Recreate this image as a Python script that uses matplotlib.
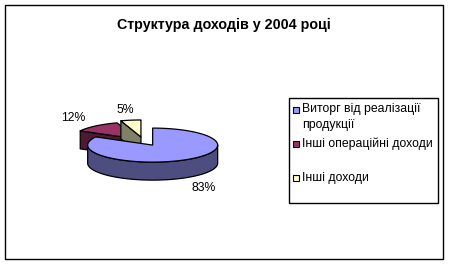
import numpy as np
import matplotlib.pyplot as plt
from matplotlib.patches import Polygon, Rectangle

# data
title = "Структура доходів у 2004 році"
labels = ["Виторг від реалізації\nпродукції", "Інші операційні доходи", "Інші доходи"]
values = [83, 12, 5]

# style
top_colors = ["#9999FF", "#993366", "#FFFFCC"]
side_colors = ["#4D4D80", "#4D1933", "#808066"]
explode = [0.28, 0.15, 0.24]
depth = 1.06  # pie thickness, in y radius units

plt.rcParams['font.family'] = ['Liberation Sans', 'DejaVu Sans']

W, H = 449, 266
fig = plt.figure(figsize=(W / 100, H / 100), dpi=100)
ax = fig.add_axes([0, 0, 1, 1])
# pie centre and radii in pixels -> one data unit = one radius
cx, cy, rx, ry = 143.4, 141.0, 65.0, 17.0
ax.set_xlim(-cx / rx, (W - cx) / rx)
ax.set_ylim((cy - H) / ry, cy / ry)
ax.axis('off')


def px(x, y):
    # pixel (top-left origin) -> figure fraction
    return x / W, 1 - y / H


def arc(p, a, b, n=120, dy=0.0):
    t = np.radians(np.linspace(a, b, n))
    return np.column_stack([p[0] + np.cos(t), p[1] + np.sin(t) + dy])


def draw_slice(p, a1, a2, top, side):
    kw = dict(edgecolor='black', linewidth=0.9, joinstyle='round')
    # radial faces
    for ang, vis in ((a1, np.cos(np.radians(a1)) > 1e-6),
                     (a2, np.cos(np.radians(a2)) < -1e-6)):
        if vis:
            r = np.radians(ang)
            q = (p[0] + np.cos(r), p[1] + np.sin(r))
            pts = [p, q, (q[0], q[1] - depth), (p[0], p[1] - depth)]
            ax.add_patch(Polygon(pts, closed=True, facecolor=side, **kw))
    # front part of the curved side
    for k in range(-2, 2):
        lo, hi = max(a1, -180 + 360 * k), min(a2, 0 + 360 * k)
        if hi > lo:
            upper = arc(p, lo, hi)
            lower = arc(p, hi, lo, dy=-depth)
            ax.add_patch(Polygon(np.vstack([upper, lower]), closed=True,
                                 facecolor=side, **kw))
    # top face
    pts = np.vstack([[p], arc(p, a1, a2)])
    ax.add_patch(Polygon(pts, closed=True, facecolor=top, **kw))


fr = np.array(values) / sum(values)
ends = 90 - 360 * np.cumsum(fr)
starts = ends + 360 * fr

apex = []
for i in range(len(values)):
    mid = np.radians((starts[i] + ends[i]) / 2)
    apex.append((explode[i] * np.cos(mid), explode[i] * np.sin(mid)))

# back slices first, the big one in front
for i in [1, 2, 0]:
    draw_slice(apex[i], ends[i], starts[i], top_colors[i], side_colors[i])

# percentage labels
for i, v in enumerate(values):
    mid = np.radians((starts[i] + ends[i]) / 2)
    lx = apex[i][0] + 1.55 * np.cos(mid)
    ly = apex[i][1] + 1.6 * np.sin(mid)
    if np.sin(mid) < 0:
        ly -= depth * 1.1
    ax.text(lx, ly, f"{v}%", ha='center', va='center', fontsize=8.8)

fig.text(*px(224, 25), title, ha='center', va='center',
         fontsize=10.3, fontweight='bold')

# legend box
x0, y0 = px(289, 203)
x1, y1 = px(438, 98)
fig.patches.append(Rectangle((x0, y0), x1 - x0, y1 - y0, transform=fig.transFigure,
                             facecolor='white', edgecolor='black', linewidth=1))
entry_y = [110, 144, 178]
text_y = [117, 144, 178]
for lab, col, ey, ty in zip(labels, top_colors, entry_y, text_y):
    sx, sy = px(293, ey + 3)
    fig.patches.append(Rectangle((sx, sy), 6 / W, 6 / H, transform=fig.transFigure,
                                 facecolor=col, edgecolor='black', linewidth=0.8))
    fig.text(*px(302, ty), lab, ha='left', va='center', fontsize=8.8, linespacing=1.35)

# chart border
bx0, by0 = px(5, 259)
bx1, by1 = px(443, 5)
fig.patches.append(Rectangle((bx0, by0), bx1 - bx0, by1 - by0, transform=fig.transFigure,
                             facecolor='none', edgecolor='black', linewidth=1))

fig.savefig('out.png', dpi=100)
